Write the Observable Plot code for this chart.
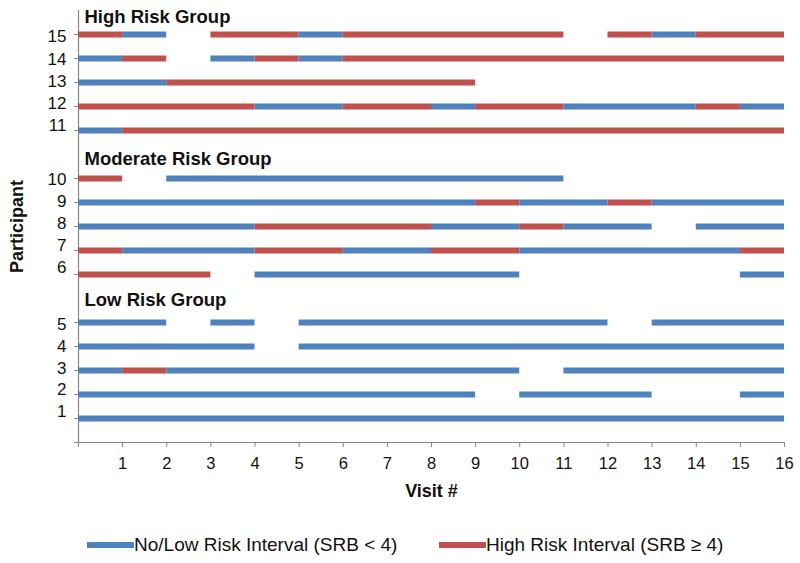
<!DOCTYPE html>
<html><head><meta charset="utf-8">
<script src="https://cdn.jsdelivr.net/npm/d3@7"></script>
<script src="https://cdn.jsdelivr.net/npm/@observablehq/plot@0.6"></script>
<style>
body{margin:0;background:#fff;font-family:"Liberation Sans",Arial,sans-serif;}
#legend{position:relative;width:800px;height:48px;}
.item{position:absolute;top:20px;display:flex;align-items:center;font-size:19px;color:#111;line-height:20px;white-space:nowrap}
.sw{width:47px;height:6px}
</style></head><body><div id="chart"></div><div id="legend"></div>
<script>
// Participants and their row positions on the y scale (gaps hold the group headings)
const participants = [1,2,3,4,5,6,7,8,9,10,11,12,13,14,15];
const rowPos       = [1,2,3,4,5,7,8,9,10,11,13,14,15,16,17];
// Where the participant number labels sit
const tickLabelPos = [1.29,2.19,3.1,4.0,4.9,7.27,8.2,9.12,10.05,10.97,13.2,14.12,15.05,15.97,16.9];
// Interval status per participant, one code per visit interval 0-1 ... 15-16
// L = No/Low risk, H = High risk, - = missing
const intervals = [
  "LLLLLLLLLLLLLLLL", // 1
  "LLLLLLLLL-LLL--L", // 2
  "LHLLLLLLLL-LLLLL", // 3
  "LLLL-LLLLLLLLLLL", // 4
  "LL-L-LLLLLLL-LLL", // 5
  "HHH-LLLLLL-----L", // 6
  "HLLLHHLLHHLLLLLH", // 7
  "LLLLHHHHLLHLL-LL", // 8
  "LLLLLLLLLHLLHLLL", // 9
  "H-LLLLLLLLL-----", // 10
  "LHHHHHHHHHHHHHHH", // 11
  "HHHHLLHHLHHLLLHL", // 12
  "LLHHHHHHH-------", // 13
  "LH-LHLHHHHHHHHHH", // 14
  "HL-HHLHHHHH-HLHH"  // 15
];
const visitTicks = [0,1,2,3,4,5,6,7,8,9,10,11,12,13,14,15,16];
const groupNames = ["Low Risk Group","Moderate Risk Group","High Risk Group"];
const groupLabelPos = [5.94,11.82,17.72];
const riskCodes = ["L","H"];
const riskLabels = ["No/Low Risk Interval (SRB < 4)","High Risk Interval (SRB \u2265 4)"];
const riskColors = ["#4F81BD","#C0504D"];

// merge runs of identical codes into segments
const segments = [];
participants.forEach((p, i) => {
  const s = intervals[i];
  let start = 0;
  for (let k = 1; k <= s.length; k++) {
    if (k === s.length || s[k] !== s[start]) {
      if (s[start] !== "-") segments.push({pos: rowPos[i], from: start, to: k, risk: s[start]});
      start = k;
    }
  }
});
const rows = participants.map((p, i) => ({participant: String(p), labelPos: tickLabelPos[i]}));
const groups = groupNames.map((n, i) => ({name: n, pos: groupLabelPos[i]}));

const chart = Plot.plot({
  width: 800, height: 515,
  marginLeft: 78, marginRight: 16, marginTop: 10, marginBottom: 73,
  style: {fontFamily: "'Liberation Sans', Arial, sans-serif", fontSize: "17px", color: "#111", background: "#fff"},
  x: {domain: [0, 16]},
  y: {domain: [0, 18]},
  color: {domain: riskCodes, range: riskColors},
  marks: [
    Plot.axisX({ticks: visitTicks, tickSize: 5, tickPadding: 10, tickFormat: d => d === 0 ? "" : String(d), stroke: "#868686", fontSize: 16.5, label: null}),
    Plot.axisY({ticks: [0, ...rowPos], tickSize: 4, tickFormat: () => "", stroke: "#868686", label: null}),
    Plot.ruleX([0], {stroke: "#868686", strokeWidth: 1.2}),
    Plot.ruleY([0], {stroke: "#868686", strokeWidth: 1.2}),
    Plot.ruleY(segments, {y: "pos", x1: "from", x2: "to", stroke: "risk", strokeWidth: 6}),
    Plot.text(rows, {y: "labelPos", text: "participant", frameAnchor: "left", textAnchor: "end", dx: -12, fontSize: 17}),
    Plot.text(groups, {y: "pos", text: "name", frameAnchor: "left", textAnchor: "start", dx: 6, fontSize: 18.5, fontWeight: "bold"}),
    Plot.text(["Visit #"], {text: d => d, frameAnchor: "bottom", textAnchor: "middle", lineAnchor: "middle", dy: 49, fontSize: 18, fontWeight: "bold"}),
    Plot.text(["Participant"], {text: d => d, frameAnchor: "left", textAnchor: "middle", lineAnchor: "middle", dx: -61, rotate: -90, fontSize: 18, fontWeight: "bold"})
  ]
});
document.getElementById("chart").appendChild(chart);

const legend = document.getElementById("legend");
const lefts = [87, 439];
riskCodes.forEach((c, i) => {
  const it = document.createElement("div");
  it.className = "item";
  it.style.left = lefts[i] + "px";
  const sw = document.createElement("div");
  sw.className = "sw";
  sw.style.background = riskColors[i];
  const t = document.createElement("span");
  t.textContent = riskLabels[i];
  it.appendChild(sw); it.appendChild(t);
  legend.appendChild(it);
});
</script></body></html>
